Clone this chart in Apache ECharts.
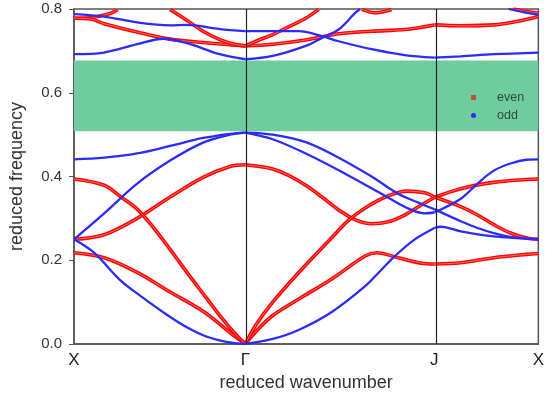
<!DOCTYPE html>
<html>
<head>
<meta charset="utf-8">
<script src="https://cdn.jsdelivr.net/npm/echarts@6/dist/echarts.min.js"></script>
<style>
  html, body { margin: 0; padding: 0; background: #fff; }
  #chart { width: 547px; height: 397px; }
</style>
</head>
<body>
<div id="chart"></div>
<script>
// symmetry points along the path (fraction of path length)
var kPoints = [0, 0.369, 0.776, 1];
var kNames = ["X", "Γ", "J", "X"];
var bandGap = [0.508, 0.677];

// odd bands [k, reduced frequency]
var odd1 = [[0,0.25],[0.043,0.218],[0.1,0.152],[0.143,0.115],[0.2,0.07],[0.243,0.04],[0.285,0.018],[0.328,0.005],[0.369,0],
    [0.428,0.012],[0.485,0.034],[0.556,0.077],[0.627,0.138],[0.66,0.175],[0.691,0.21],[0.734,0.25],[0.776,0.277],
    [0.79,0.28],[0.833,0.269],[0.904,0.257],[1,0.25]];
var odd2 = [[0,0.25],[0.065,0.312],[0.136,0.383],[0.207,0.438],[0.278,0.481],[0.336,0.5],[0.369,0.505],
    [0.428,0.5],[0.499,0.482],[0.57,0.445],[0.641,0.4],[0.698,0.359],[0.741,0.338],[0.776,0.322],
    [0.833,0.293],[0.869,0.277],[0.904,0.265],[0.94,0.256],[1,0.25]];
var odd3 = [[0,0.441],[0.065,0.445],[0.136,0.455],[0.207,0.473],[0.278,0.492],[0.336,0.502],[0.369,0.505],
    [0.428,0.489],[0.499,0.455],[0.57,0.415],[0.662,0.359],[0.719,0.324],[0.755,0.312],[0.776,0.314],
    [0.833,0.347],[0.869,0.383],[0.904,0.414],[0.94,0.431],[0.975,0.44],[1,0.441]];
var odd4 = [[0,0.692],[0.065,0.696],[0.136,0.716],[0.193,0.729],[0.242,0.719],[0.314,0.692],[0.369,0.68],
    [0.428,0.688],[0.499,0.712],[0.534,0.731],[0.57,0.751],[0.605,0.79],[0.616,0.8]];
var odd5 = [[0,0.788],[0.065,0.782],[0.136,0.768],[0.207,0.761],[0.242,0.762],[0.314,0.752],[0.369,0.747],
    [0.428,0.747],[0.484,0.747],[0.534,0.735],[0.57,0.723],[0.641,0.704],[0.712,0.69],[0.776,0.684],
    [0.833,0.687],[0.904,0.692],[1,0.696]];
var odd6 = [[0.936,0.8],[0.97,0.792],[1,0.786]];

// even bands
var even1 = [[0,0.218],[0.065,0.206],[0.136,0.171],[0.207,0.124],[0.278,0.078],[0.342,0.022],[0.369,0],
    [0.392,0.03],[0.428,0.068],[0.485,0.108],[0.556,0.156],[0.627,0.21],[0.652,0.218],[0.698,0.206],[0.748,0.193],[0.776,0.191],
    [0.833,0.194],[0.904,0.206],[0.975,0.214],[1,0.216]];
var even2 = [[0,0.25],[0.065,0.261],[0.136,0.3],[0.207,0.351],[0.278,0.398],[0.336,0.424],[0.369,0.428],
    [0.428,0.418],[0.463,0.402],[0.499,0.379],[0.534,0.351],[0.57,0.32],[0.605,0.297],[0.641,0.287],[0.677,0.292],[0.712,0.308],[0.748,0.332],[0.776,0.35],
    [0.833,0.371],[0.904,0.386],[0.975,0.393],[1,0.394]];
var even3 = [[0,0.394],[0.065,0.379],[0.1,0.352],[0.136,0.322],[0.171,0.278],[0.207,0.226],[0.242,0.173],[0.278,0.12],[0.314,0.068],[0.349,0.022],[0.369,0],
    [0.392,0.046],[0.428,0.1],[0.485,0.172],[0.556,0.255],[0.591,0.295],[0.627,0.325],[0.677,0.354],[0.719,0.365],[0.755,0.361],[0.776,0.351],
    [0.833,0.328],[0.869,0.308],[0.904,0.285],[0.94,0.265],[0.975,0.253],[1,0.25]];
var even4 = [[0,0.778],[0.036,0.779],[0.05,0.782],[0.079,0.79],[0.094,0.799]];
var even5 = [[0,0.778],[0.036,0.776],[0.065,0.765],[0.136,0.745],[0.207,0.728],[0.278,0.72],[0.369,0.712],
    [0.428,0.716],[0.499,0.726],[0.57,0.741],[0.641,0.747],[0.712,0.751],[0.776,0.762],
    [0.833,0.76],[0.904,0.762],[0.953,0.77],[1,0.782]];
var even6 = [[0.207,0.799],[0.242,0.774],[0.278,0.747],[0.314,0.727],[0.349,0.715],[0.369,0.712],
    [0.392,0.723],[0.428,0.739],[0.463,0.758],[0.499,0.778],[0.527,0.799]];
var even7 = [[0.62,0.799],[0.648,0.791],[0.684,0.799]];
var even8 = [[0.946,0.8],[0.975,0.794],[1,0.79]];

var oddBands = [odd1, odd2, odd3, odd4, odd5, odd6];
var evenBands = [even1, even2, even3, even4, even5, even6, even7, even8];

// cut a band at the inner symmetry points so smoothing keeps the kinks
function splitBand(band) {
    var segs = [], cur = [];
    band.forEach(function (p) {
        cur.push(p);
        if (cur.length > 1 && (p[0] === kPoints[1] || p[0] === kPoints[2])) {
            segs.push(cur);
            cur = [p];
        }
    });
    if (cur.length > 1) segs.push(cur);
    return segs;
}

var series = [{
    type: "line",
    data: [],
    silent: true,
    markArea: {
        silent: true,
        itemStyle: {color: "#6fcc9f"},
        data: [[{yAxis: bandGap[0]}, {yAxis: bandGap[1]}]]
    },
    markLine: {
        silent: true,
        symbol: "none",
        label: {show: false},
        lineStyle: {color: "#222", width: 1.2, type: "solid"},
        data: [{xAxis: kPoints[1]}, {xAxis: kPoints[2]}]
    }
}];

evenBands.forEach(function (b) {
    splitBand(b).forEach(function (s) {
        series.push({
            name: "even", type: "line", data: s, smooth: 0.35, showSymbol: false, silent: true,
            lineStyle: {color: "#ff0000", width: 3.6}
        });
        series.push({
            name: "even", type: "line", data: s, smooth: 0.35, showSymbol: false, silent: true,
            lineStyle: {color: "rgba(255,255,255,0.4)", width: 1}
        });
    });
});
oddBands.forEach(function (b) {
    splitBand(b).forEach(function (s) {
        series.push({
            name: "odd", type: "line", data: s, smooth: 0.35, showSymbol: false, silent: true,
            lineStyle: {color: "#2b2bff", width: 2.3}
        });
    });
});

var chart = echarts.init(document.getElementById("chart"));
chart.setOption({
    animation: false,
    textStyle: {fontFamily: "Liberation Sans, Arial, sans-serif"},
    grid: {left: 73, right: 6, top: 9, bottom: 48, show: true, borderColor: "#555", borderWidth: 1.5},
    legend: {
        orient: "vertical", left: 466, top: 86, itemGap: 5,
        itemWidth: 5, itemHeight: 5,
        textStyle: {color: "#2d4d3d", fontSize: 12.5, padding: [0, 0, 0, 16]},
        data: [
            {name: "even", icon: "rect", itemStyle: {color: "#b8563c"}},
            {name: "odd", icon: "circle", itemStyle: {color: "#2b2bff"}}
        ]
    },
    xAxis: {
        type: "value", min: 0, max: 1,
        name: "reduced wavenumber", nameLocation: "middle", nameGap: 30,
        nameTextStyle: {fontSize: 18, color: "#333"},
        axisLine: {lineStyle: {color: "#555", width: 1.5}},
        axisTick: {show: false},
        splitLine: {show: false},
        axisLabel: {
            customValues: kPoints, fontSize: 17, color: "#222", margin: 8,
            formatter: function (v) { return kNames[kPoints.indexOf(v)]; }
        }
    },
    yAxis: {
        type: "value", min: 0, max: 0.8, interval: 0.2,
        name: "reduced frequency", nameLocation: "middle", nameGap: 48, nameRotate: 90,
        nameTextStyle: {fontSize: 18, color: "#333"},
        axisLine: {show: true, lineStyle: {color: "#555", width: 1.5}},
        axisTick: {show: true, length: 5, lineStyle: {color: "#555"}},
        splitLine: {show: false},
        axisLabel: {
            fontSize: 15, color: "#333", margin: 12,
            formatter: function (v) { return v.toFixed(1); }
        }
    },
    series: series
});
</script>
</body>
</html>
